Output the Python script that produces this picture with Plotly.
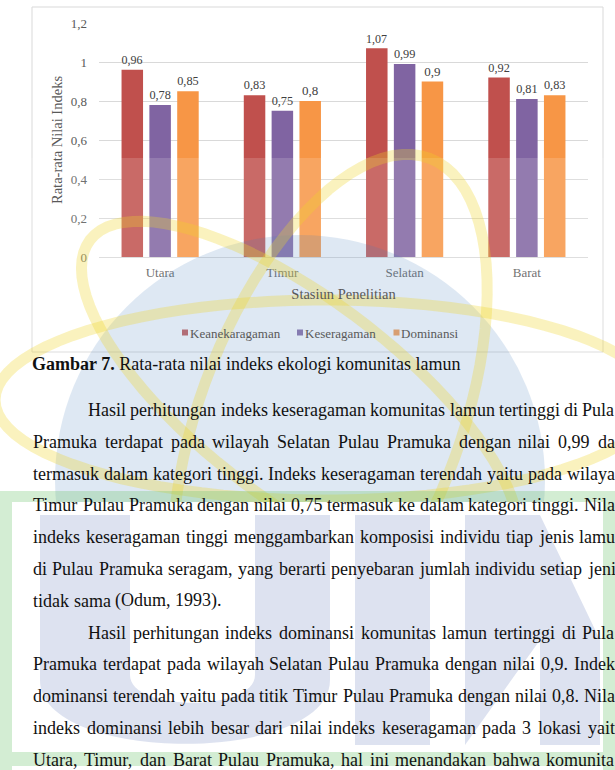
import math
import plotly.graph_objects as go

# ---------------- data ----------------
categories = ["Utara", "Timur", "Selatan", "Barat"]
keanekaragaman = [0.96, 0.83, 1.07, 0.92]
keseragaman = [0.78, 0.75, 0.99, 0.81]
dominansi = [0.85, 0.80, 0.90, 0.83]
series_names = ["Keanekaragaman", "Keseragaman", "Dominansi"]
series_colors = ["#C0504D", "#8064A2", "#F79646"]
y_tick_values = [0, 0.2, 0.4, 0.6, 0.8, 1.0, 1.2]
x_title = "Stasiun Penelitian"
y_title = "Rata-rata Nilai Indeks"

caption_bold = "Gambar 7."
caption_text = "Rata-rata nilai indeks ekologi komunitas lamun"

# body text lines as laid out on the page; the last word of each line is
# cropped by the page edge, so (full line, visible part of last word) is given
paragraph1 = [
    ("Hasil perhitungan indeks keseragaman komunitas lamun tertinggi di Pulau", "Pula"),
    ("Pramuka terdapat pada wilayah Selatan Pulau Pramuka dengan nilai 0,99 dan", "da"),
    ("termasuk dalam kategori tinggi. Indeks keseragaman terendah yaitu pada wilayah", "wilaya"),
    ("Timur Pulau Pramuka dengan nilai 0,75 termasuk ke dalam kategori tinggi. Nilai", "Nila"),
    ("indeks keseragaman tinggi menggambarkan komposisi individu tiap jenis lamun", "lamu"),
    ("di Pulau Pramuka seragam, yang berarti penyebaran jumlah individu setiap jenis", "jeni"),
    ("tidak sama (Odum, 1993).", None),
]
paragraph2 = [
    ("Hasil perhitungan indeks dominansi komunitas lamun tertinggi di Pulau", "Pula"),
    ("Pramuka terdapat pada wilayah Selatan Pulau Pramuka dengan nilai 0,9. Indeks", "Indek"),
    ("dominansi terendah yaitu pada titik Timur Pulau Pramuka dengan nilai 0,8. Nilai", "Nila"),
    ("indeks dominansi lebih besar dari nilai indeks keseragaman pada 3 lokasi yaitu", "yait"),
    ("Utara, Timur, dan Barat Pulau Pramuka, hal ini menandakan bahwa komunitas", "komunita"),
]

# ---------------- geometry helpers ----------------
W, H = 615, 770
ML, MR, MT, MB = 99, 27, 23, 513
PW, PH = W - ML - MR, H - MT - MB


def X(px):
    return (px - ML) / PW


def Y(py):
    return (MT + PH - py) / PH


def fmt(v):
    return f"{v:g}".replace(".", ",")


SERIF = "Liberation Serif"
TNR = {' ': 250, '(': 333, ')': 333, ',': 250, '-': 333, '.': 250,
       'A': 722, 'B': 667, 'C': 667, 'D': 722, 'E': 611, 'F': 556, 'G': 722, 'H': 722,
       'I': 333, 'J': 389, 'K': 722, 'L': 611, 'M': 889, 'N': 722, 'O': 722, 'P': 556,
       'Q': 722, 'R': 667, 'S': 556, 'T': 611, 'U': 722, 'V': 722, 'W': 944, 'X': 722,
       'Y': 722, 'Z': 611, 'a': 444, 'b': 500, 'c': 444, 'd': 500, 'e': 444, 'f': 333,
       'g': 500, 'h': 500, 'i': 278, 'j': 278, 'k': 500, 'l': 278, 'm': 778, 'n': 500,
       'o': 500, 'p': 500, 'q': 500, 'r': 333, 's': 389, 't': 278, 'u': 500, 'v': 500,
       'w': 722, 'x': 500, 'y': 500, 'z': 444}
for d in "0123456789":
    TNR[d] = 500


def text_width(s, size):
    return sum(TNR.get(c, 500) for c in s) / 1000.0 * size


# ---------------- traces ----------------
fig = go.Figure()
for name, vals, col in zip(series_names, [keanekaragaman, keseragaman, dominansi], series_colors):
    fig.add_trace(go.Bar(
        x=categories, y=vals, name=name, marker=dict(color=col, line=dict(width=0)),
        text=[fmt(v) for v in vals], textposition="outside", cliponaxis=False,
        textfont=dict(family=SERIF, size=13, color="#404040"), showlegend=False,
    ))

shapes = []
annotations = []

# chart frame
shapes.append(dict(type="rect", xref="paper", yref="paper", x0=X(32), x1=X(603), y0=Y(352), y1=Y(7),
                   line=dict(color="#D9D9D9", width=1), fillcolor="rgba(0,0,0,0)", layer="below"))

# custom legend
leg_x = [182, 297, 393.5]
for name, col, lx in zip(series_names, series_colors, leg_x):
    shapes.append(dict(type="rect", xref="paper", yref="paper", x0=X(lx), x1=X(lx + 6), y0=Y(335.5), y1=Y(329.5),
                       fillcolor=col, line=dict(width=0), layer="above"))
    annotations.append(dict(x=X(lx + 7.5), y=Y(333), xref="paper", yref="paper", text=name, showarrow=False,
                            xanchor="left", yanchor="middle", borderpad=0, borderwidth=0,
                            font=dict(family=SERIF, size=13, color="#595959")))

# ---------------- watermark ----------------
shapes.append(dict(type="rect", xref="paper", yref="paper", x0=X(0), x1=X(615), y0=Y(770), y1=Y(158),
                   fillcolor="rgba(255,255,255,0.15)", line=dict(width=0), layer="above"))
shapes.append(dict(type="circle", xref="paper", yref="paper", x0=X(55), x1=X(545), y0=Y(725), y1=Y(235),
                   fillcolor="rgba(70,130,190,0.18)", line=dict(width=0), layer="above"))


def ellipse_path(cx, cy, a, b, ux, uy):
    n = math.hypot(ux, uy)
    ux, uy = ux / n, uy / n
    vx, vy = -uy, ux
    pts = []
    for k in range(0, 360, 4):
        t = math.radians(k)
        px = cx + a * math.cos(t) * ux + b * math.sin(t) * vx
        py = cy + a * math.cos(t) * uy + b * math.sin(t) * vy
        pts.append(f"{X(px):.5f},{Y(py):.5f}")
    return "M" + " L".join(pts) + " Z"


orbit_style = dict(type="path", xref="paper", yref="paper", fillcolor="rgba(0,0,0,0)",
                   line=dict(color="rgba(240,212,40,0.30)", width=11), layer="above")
shapes.append(dict(path=ellipse_path(325, 400, 330, 100, 1, 0), **orbit_style))
shapes.append(dict(path=ellipse_path(300, 400, 264, 100, 0.795, 0.606), **orbit_style))
shapes.append(dict(path=ellipse_path(330, 420, 280, 130, 0.357, -0.936), **orbit_style))

# white interior of the green frame (hides lower parts of globe & orbits)
shapes.append(dict(type="rect", xref="paper", yref="paper", x0=X(12), x1=X(603), y0=Y(752), y1=Y(502),
                   fillcolor="white", line=dict(width=0), layer="above"))
green = "rgba(110,195,110,0.30)"
for (x0, x1, y0, y1) in [(0, 615, 491, 502), (0, 12, 502, 770), (603, 615, 502, 770), (12, 603, 752, 766)]:
    shapes.append(dict(type="rect", xref="paper", yref="paper", x0=X(x0), x1=X(x1), y0=Y(y1), y1=Y(y0),
                       fillcolor=green, line=dict(width=0), layer="above"))


def P(px, py):
    return f"{X(px):.5f},{Y(py):.5f}"


letter = "rgba(100,125,185,0.22)"
u_path = ("M" + P(40, 515) + " L" + P(130, 515) + " L" + P(130, 675) + " C" + P(130, 712) + " " + P(255, 712) + " " +
          P(255, 675) + " L" + P(255, 515) + " L" + P(330, 515) + " L" + P(330, 680) + " C" + P(330, 765) + " " +
          P(40, 765) + " " + P(40, 680) + " Z")
shapes.append(dict(type="path", xref="paper", yref="paper", path=u_path, fillcolor=letter, line=dict(width=0), layer="above"))
shapes.append(dict(type="rect", xref="paper", yref="paper", x0=X(355), x1=X(430), y0=Y(745), y1=Y(515),
                   fillcolor=letter, line=dict(width=0), layer="above"))
n_path = ("M" + P(465, 745) + " L" + P(465, 515) + " L" + P(540, 515) + " L" + P(600, 640) + " L" + P(600, 745) +
          " L" + P(540, 745) + " L" + P(540, 640) + " Z")
shapes.append(dict(type="path", xref="paper", yref="paper", path=n_path, fillcolor=letter, line=dict(width=0), layer="above"))

# ---------------- caption & body text ----------------
BODY = 18
annotations.append(dict(x=X(32), y=Y(364), xref="paper", yref="paper",
                        text=f"<b>{caption_bold}</b> {caption_text}", showarrow=False,
                        xanchor="left", yanchor="middle", borderpad=0, borderwidth=0,
                        font=dict(family=SERIF, size=BODY, color="#111111")))

RIGHT = 614.5
LINE0, STEP = 410, 31.8
line_no = 0
for para in (paragraph1, paragraph2):
    for i, (line, cut) in enumerate(para):
        words = line.split()
        if cut is not None:
            words[-1] = cut
        x0 = 88 if i == 0 else 33
        widths = [text_width(w, BODY) for w in words]
        if cut is not None and len(words) > 1:
            gap = (RIGHT - x0 - sum(widths)) / (len(words) - 1)
        else:
            gap = text_width(" ", BODY)
        yc = LINE0 + line_no * STEP
        xpos = x0
        for w, wd in zip(words, widths):
            annotations.append(dict(x=X(xpos), y=Y(yc), xref="paper", yref="paper", text=w, showarrow=False,
                                    xanchor="left", yanchor="middle", borderpad=0, borderwidth=0,
                                    font=dict(family=SERIF, size=BODY, color="#111111")))
            xpos += wd + gap
        line_no += 1

# ---------------- layout ----------------
fig.update_layout(
    template="none",
    width=W, height=H, autosize=False,
    margin=dict(l=ML, r=MR, t=MT, b=MB, pad=0),
    paper_bgcolor="white", plot_bgcolor="white",
    barmode="group", bargap=0.317, bargroupgap=0.227,
    separators=", ",
    font=dict(family=SERIF, color="#595959"),
    showlegend=False,
    xaxis=dict(showgrid=False, showline=False, ticks="", zeroline=False, automargin=False,
               tickfont=dict(family=SERIF, size=13, color="#595959"), ticklabelstandoff=6,
               title=dict(text=x_title, font=dict(family=SERIF, size=14.5, color="#595959"), standoff=9)),
    yaxis=dict(range=[0, 1.2], tickvals=y_tick_values, showgrid=True, gridcolor="#D9D9D9", gridwidth=1,
               zeroline=True, zerolinecolor="#D9D9D9", zerolinewidth=1, showline=False, ticks="",
               automargin=False, tickfont=dict(family=SERIF, size=13, color="#595959"), ticklabelstandoff=11,
               title=dict(text=y_title, font=dict(family=SERIF, size=14.5, color="#595959"), standoff=4)),
    shapes=shapes,
    annotations=annotations,
)

fig.write_html("out.html")
